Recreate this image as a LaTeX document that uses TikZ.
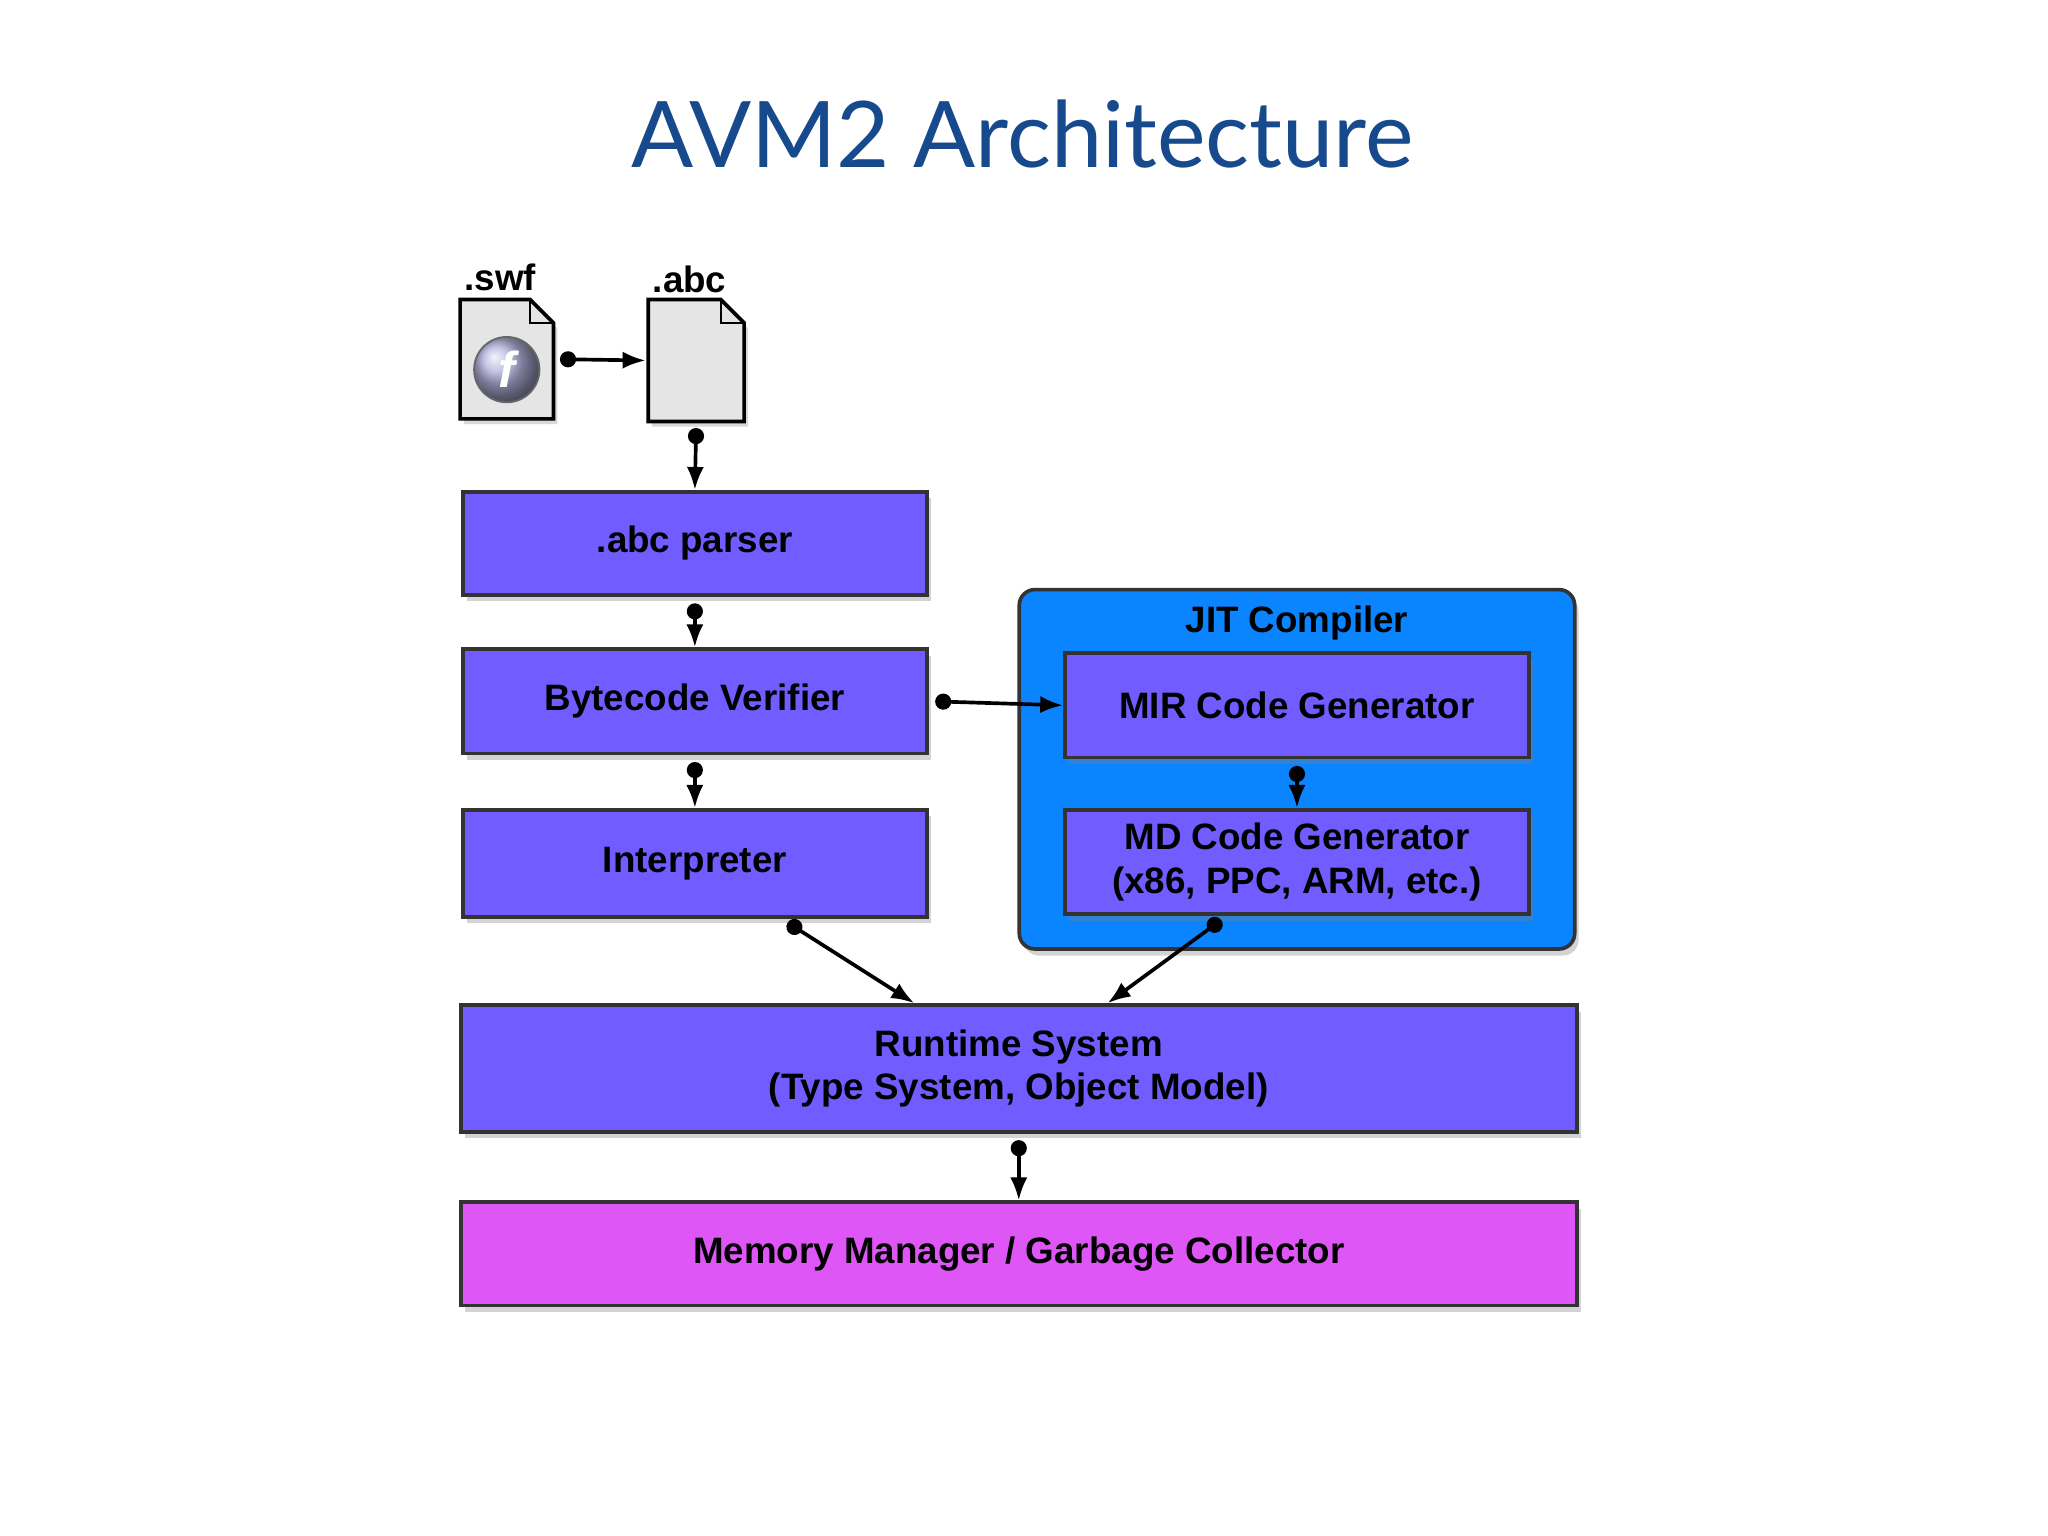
\documentclass[tikz,border=0pt]{standalone}
\usepackage{fontspec}
\setmainfont{Liberation Sans}
\newfontfamily\titlefont{Lato}
\usetikzlibrary{arrows.meta,shadows}
\definecolor{titleblue}{RGB}{22,74,140}
\definecolor{boxpurple}{RGB}{112,92,255}
\definecolor{jitblue}{RGB}{10,132,255}
\definecolor{memmagenta}{RGB}{222,86,246}
\begin{document}
\begin{tikzpicture}[x=0.01cm,y=-0.01cm]
          \tikzstyle{block} = [rectangle, draw=black!80, fill=boxpurple, thick, font=\bfseries\fontsize{8}{9.5}\selectfont, align=center, inner sep=0pt, drop shadow={shadow xshift=0.03cm, shadow yshift=-0.05cm, opacity=0.35}]
          \tikzstyle{file} = [rectangle, inner sep=0pt, minimum width=0.7cm, minimum height=0.9cm]
          \tikzstyle{link} = [{Circle[length=3.5pt]}-{Latex[length=5pt]}, thick]
        \useasboundingbox (0,0) rectangle (1568,1176);
        \node[font=\titlefont\fontsize{20}{24}\selectfont, text=titleblue] (title) at (783,103) {AVM2 Architecture};
        % input files
        \node[file] (swf) at (388,275) {};
        \node[file, minimum width=0.72cm, minimum height=0.92cm] (abc) at (533,276) {};
        \foreach \f in {swf,abc} {
          \draw[thick, fill=black!10, drop shadow={shadow xshift=0.03cm, shadow yshift=-0.04cm, opacity=0.3}]
            (\f.north west) -- ([xshift=-0.18cm]\f.north east) -- ([yshift=-0.18cm]\f.north east) -- (\f.south east) -- (\f.south west) -- cycle;
          \draw[thin] ([xshift=-0.18cm]\f.north east) -- ([xshift=-0.18cm,yshift=-0.18cm]\f.north east) -- ([yshift=-0.18cm]\f.north east);
        }
        \shade[ball color=black!45!blue!30!white, draw=black!60] ([yshift=-0.08cm]swf.center) circle (0.25cm);
        \node[text=white, font=\bfseries\itshape\fontsize{11}{11}\selectfont] (flashf) at ([yshift=-0.08cm]swf.center) {f};
        \node[font=\bfseries\fontsize{8}{9}\selectfont] (swflabel) at (383,212) {.swf};
        \node[font=\bfseries\fontsize{8}{9}\selectfont] (abclabel) at (528,214) {.abc};
        % blocks
        \node[block, minimum width=3.55cm, minimum height=0.79cm] (parser) at (532,416) {.abc parser};
        \node[block, minimum width=3.55cm, minimum height=0.80cm] (verifier) at (532,537) {Bytecode Verifier};
        \node[block, minimum width=3.55cm, minimum height=0.82cm] (interp) at (532,661) {Interpreter};
        \node[block, fill=jitblue, rounded corners=0.12cm, minimum width=4.25cm, minimum height=2.75cm] (jit) at (993,589) {};
        \node[font=\bfseries\fontsize{8}{9.5}\selectfont] (jitlabel) at (993,477) {JIT Compiler};
        \node[block, minimum width=3.55cm, minimum height=0.80cm, drop shadow={opacity=0}] (mir) at (993,540) {MIR Code Generator};
        \node[block, minimum width=3.55cm, minimum height=0.80cm, drop shadow={opacity=0}] (md) at (993,660) {MD Code Generator\\(x86, PPC, ARM, etc.)};
        \node[block, minimum width=8.54cm, minimum height=0.97cm] (runtime) at (780,818) {Runtime System\\(Type System, Object Model)};
        \node[block, fill=memmagenta, minimum width=8.54cm, minimum height=0.79cm] (memory) at (780,960) {Memory Manager / Garbage Collector};
        \begin{scope}
          \draw[link] ([xshift=0.05cm]swf.east) -- ([xshift=-0.02cm]abc.west);
          \draw[link] ([yshift=-0.05cm]abc.south) -- (parser.north);
          \draw[link] ([yshift=-0.05cm]parser.south) -- (verifier.north);
          \draw[link] ([yshift=-0.05cm]verifier.south) -- (interp.north);
          \draw[link] ([xshift=0.05cm]verifier.east) -- (mir.west);
          \draw[link] ([yshift=-0.05cm]mir.south) -- (md.north);
          \draw[link] ([xshift=0.71cm,yshift=-0.03cm]interp.south) -- ([xshift=-0.8cm]runtime.north);
          \draw[link] ([xshift=-0.58cm,yshift=-0.03cm]md.south) -- ([xshift=0.68cm]runtime.north);
          \draw[link] ([yshift=-0.05cm]runtime.south) -- (memory.north);
        \end{scope}
      \end{tikzpicture}
\end{document}
